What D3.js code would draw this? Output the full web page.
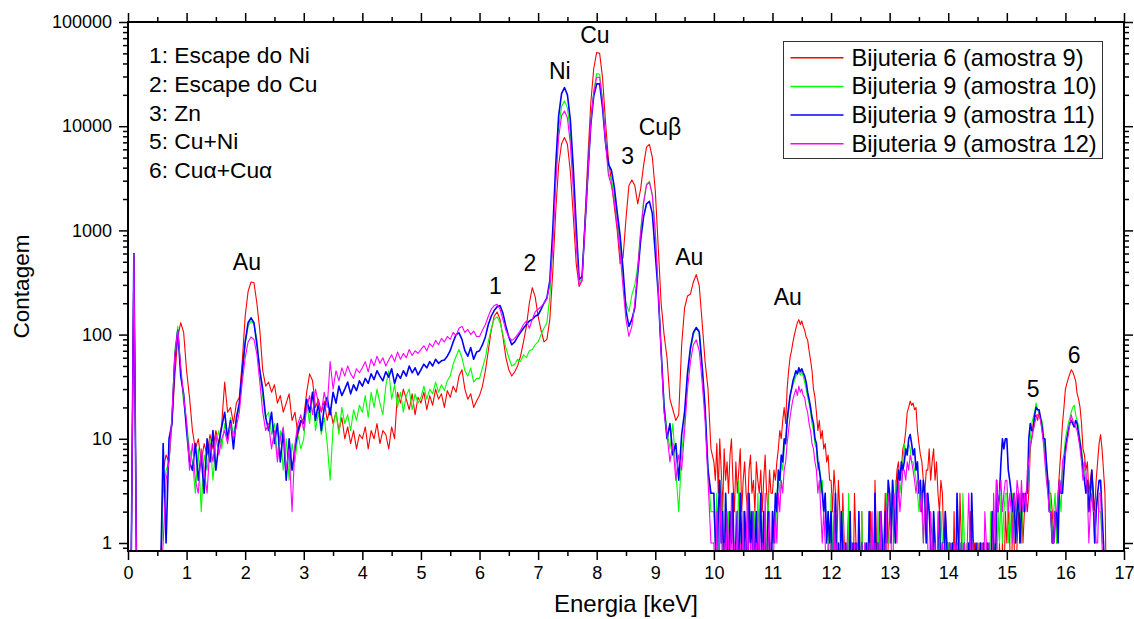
<!DOCTYPE html>
<html>
<head>
<meta charset="utf-8">
<script src="https://cdn.jsdelivr.net/npm/d3@7"></script>
<style>
  html, body { margin: 0; padding: 0; background: #fff; }
  svg { display: block; font-family: "Liberation Sans", Arial, sans-serif; }
</style>
</head>
<body>
<svg id="chart" width="1134" height="619"></svg>
<script>
// ---------------- DATA ----------------
// Low-energy part of the spectrum: 0.00 - 9.95 keV, channel width 0.05 keV
const lowStartKeV = 0.0;
const lowWidthKeV = 0.05;
// High-energy part of the spectrum: 10.000 - 16.700 keV, channel width 0.025 keV
const highStartKeV = 10.0;
const highWidthKeV = 0.025;

const seriesNames = [
  "Bijuteria 6 (amostra 9)",
  "Bijuteria 9 (amostra 10)",
  "Bijuteria 9 (amostra 11)",
  "Bijuteria 9 (amostra 12)"
];

// ---- amostra 9 (red)
const lowAmostra9 = [
  0,0,600,0,0,0,0,0,0,0,0,0,5,7,6,14,40,95,130,105,
  45,25,12,8,10,6,9,7,11,8,12,9,14,35,18,20,14,22,25,55,
  150,260,320,315,200,110,45,32,35,28,33,22,26,18,22,27,15,18,11,14,
  16,28,42,36,20,24,18,23,15,20,14,18,12,16,10,13,9,12,8,11,
  10,13,8,12,10,14,9,12,11,8,13,10,28,22,30,24,19,27,17,25,
  22,28,19,26,21,30,24,27,20,29,25,32,28,40,46,30,24,27,20,23,
  26,32,45,70,110,150,165,140,95,60,46,40,44,50,62,85,120,200,282,230,
  150,110,85,90,140,400,1500,4200,6800,7800,6700,3700,1400,480,290,330,1300,5000,17000,36000,
  51000,50000,29000,11000,4800,3000,1700,1000,480,550,1300,2700,3050,2700,1800,2500,4200,6300,6700,5000,
  2400,700,200,100,60,24,19,15,17,80,180,235,245,320,377,295,130,55,30,8
];
const highAmostra9 = [
  6,4,9,3,10,5,2,8,4,6,3,7,10,4,2,6,3,5,8,2, 4,6,3,2,5,7,3,4,2,6,4,3,5,2,4,7,3,2,5,3,
  3,5,4,6,8,12,10,15,20,14,30,45,60,70,85,100,115,130,139,125, 135,120,110,95,89,70,57,45,30,25,18,12,15,10,12,8,9,6,7,4,
  4,2,5,3,1,4,2,0,3,1,0,1,2,0,1,0,3,1,0,1, 0,2,0,1,0,1,0,2,1,0,4,1,0,2,1,0,1,3,0,1,
  2,1,4,2,3,5,6,4,5,8,9,12,18,20,23,21,22,19,20,12, 9,7,6,4,3,5,5,8,4,6,8,4,6,3,2,4,3,1,2,1,
  1,0,1,0,2,0,1,0,3,1,0,1,0,1,0,2,1,0,1,0, 0,1,0,1,0,0,1,0,1,0,1,0,1,2,0,1,0,1,0,2,
  1,2,1,0,2,1,0,1,2,1,3,1,2,3,2,3,8,10,14,16, 17,15,18,16,14,10,8,5,4,3,3,2,1,2,1,3,5,8,14,20,
  30,34,38,42,46,44,40,36,27,24,20,14,8,7,5,6,3,4,5,3, 2,4,6,9,11,8,5,3,0
];

// ---- amostra 10 (green)
const lowAmostra10 = [
  0,0,600,0,0,0,0,0,0,0,0,0,3,5,6,16,70,120,45,22,
  14,8,6,3,8,2,7,5,10,4,9,12,8,14,10,16,11,15,20,40,
  80,120,135,125,90,45,25,16,18,11,14,7,12,5,10,4,9,6,11,8,
  10,22,14,28,12,18,11,16,9,4,13,18,11,20,14,17,12,19,15,21,
  18,26,16,28,20,30,22,17,32,45,24,33,20,28,18,26,30,19,27,22,
  25,32,24,30,27,35,28,33,29,36,40,52,62,72,60,45,40,48,35,38,
  38,48,60,85,115,140,148,130,100,75,60,50,52,58,55,64,60,70,72,80,
  85,100,115,130,230,750,3200,9500,15500,17500,15000,8500,3000,850,320,350,1150,3700,11500,22000,
  32000,31500,18000,7500,3600,3000,2200,1300,700,330,200,165,240,300,450,1000,1900,2800,2950,2200,
  1000,280,70,22,12,8,14,5,2,7,14,40,70,100,115,110,45,18,5,2
];
const highAmostra10 = [
  2,1,3,0,2,4,1,0,3,1,2,0,1,3,0,2,1,4,1,0, 2,1,0,3,1,2,0,1,2,0,3,1,0,1,2,0,1,3,0,1,
  1,2,1,3,4,3,6,5,8,10,14,18,25,30,33,36,40,42,45,41, 44,40,35,30,25,22,18,14,12,9,8,5,6,3,4,2,3,1,2,0,
  3,1,0,2,1,0,1,0,2,0,1,0,3,0,1,0,1,0,0,1, 0,2,0,1,0,1,0,0,1,0,1,0,2,0,1,0,1,0,3,1,
  1,3,2,1,4,3,5,3,4,6,9,7,8,9,8,6,6,5,4,3, 2,3,2,1,3,1,3,2,1,0,2,1,0,1,0,2,1,0,1,0,
  1,0,0,1,0,1,0,0,1,0,3,1,0,1,0,1,0,1,0,0, 1,0,1,0,0,1,0,1,0,2,1,0,1,0,2,1,3,1,2,3,
  3,1,2,1,3,2,1,3,2,3,1,3,2,3,4,4,10,14,16,18, 22,19,18,15,15,12,7,5,3,4,2,1,2,3,1,2,3,2,5,7,
  10,12,14,16,18,20,21,17,15,13,10,8,6,5,4,3,2,3,4,2, 1,2,3,2,2,1,1,0,0
];

// ---- amostra 11 (blue)
const lowAmostra11 = [
  0,0,600,0,0,0,0,0,0,0,0,0,9,1,10,14,60,110,40,27,
  12,6,5,9,4,7,3,10,6,12,5,9,13,18,10,15,8,16,22,45,
  85,130,145,130,80,45,30,16,12,18,9,14,6,12,4,10,5,8,12,15,
  14,24,18,28,15,22,12,20,25,17,28,22,32,26,30,35,27,33,29,36,
  32,38,34,42,37,45,40,36,44,39,47,34,42,38,45,40,50,43,48,41,
  46,52,48,55,50,58,53,56,57,62,70,85,100,104,90,70,62,75,58,68,
  70,80,95,125,150,170,185,190,160,120,95,80,85,95,105,115,125,135,140,150,
  155,175,200,225,330,1000,4200,12500,20500,23500,20000,11500,4000,1100,340,360,1100,3500,10500,19500,
  25500,25500,15000,7000,4300,3800,2600,1500,880,420,170,120,140,180,380,800,1350,1800,1900,1450,
  600,250,70,20,10,14,7,9,4,11,18,43,75,105,117,105,50,20,5,3
];
const highAmostra11 = [
  3,1,0,2,4,1,2,0,3,1,0,2,1,3,0,1,2,0,3,1, 0,2,1,0,3,1,2,0,1,2,0,1,3,0,2,1,0,2,1,0,
  2,1,3,2,5,4,7,6,10,9,15,20,26,30,36,40,45,42,48,44, 47,43,40,35,28,24,20,16,14,10,9,6,5,4,3,2,3,1,2,1,
  2,0,1,3,0,1,0,2,1,0,1,0,0,2,0,1,0,1,0,2, 0,1,0,0,1,0,2,0,1,0,3,0,1,0,2,1,0,2,1,4,
  3,1,4,2,1,3,5,4,6,5,6,8,7,10,11,9,7,8,5,6, 3,4,2,4,3,1,3,2,1,0,2,1,0,1,2,0,1,0,2,1,
  0,1,0,1,0,0,3,1,0,1,0,1,0,0,1,0,3,1,0,1, 0,0,1,0,1,0,0,1,0,0,2,1,0,4,2,3,6,10,8,10,
  10,5,4,3,2,3,1,2,3,1,2,3,2,3,3,10,14,12,12,17, 20,19,19,16,13,10,10,6,4,2,2,1,1,2,2,1,4,3,3,5,
  8,10,12,14,15,14,13,15,14,11,9,7,5,4,3,4,2,3,5,3, 1,2,3,4,4,2,1,0,0
];

// ---- amostra 12 (magenta)
const lowAmostra12 = [
  0,0,600,0,0,0,0,0,0,0,0,0,1,4,6,17,65,110,50,25,
  15,5,9,4,3,8,5,3,9,6,11,7,10,12,9,14,10,13,18,35,
  60,85,95,90,65,35,18,12,14,8,12,6,10,13,5,8,2,9,14,17,
  12,20,26,17,30,22,18,28,20,55,30,45,36,48,40,50,42,38,47,43,
  48,55,44,58,50,62,53,60,50,57,64,55,68,58,66,60,72,63,70,66,
  72,78,70,82,76,88,80,92,85,96,90,105,98,115,120,105,112,100,108,96,
  96,110,125,150,175,190,195,175,140,110,95,88,92,100,110,125,135,115,140,165,
  175,185,200,220,300,700,2700,7800,12500,14000,12000,6800,2500,750,300,330,1100,3500,11000,21000,
  29500,29500,17000,7000,3400,2700,1900,1100,600,280,140,96,120,200,420,950,1800,2700,2900,2150,
  950,270,65,18,11,6,9,4,7,5,12,30,55,80,89,70,35,15,4,1
];
const highAmostra12 = [
  1,0,2,0,1,3,0,1,0,2,1,0,3,0,1,0,2,0,1,0, 2,0,1,3,0,1,0,2,0,1,0,2,0,1,0,3,0,1,2,0,
  0,1,2,1,3,2,4,3,5,6,9,12,16,20,24,27,30,26,32,28, 30,26,25,20,18,14,12,9,8,6,5,3,4,2,1,2,1,0,1,0,
  1,0,2,0,1,0,0,1,0,1,0,1,0,0,1,0,1,0,1,0, 0,1,0,1,0,0,1,0,2,0,1,0,1,0,2,0,1,0,2,3,
  2,1,0,3,2,1,4,2,3,5,5,4,6,5,7,6,5,4,3,4, 4,2,3,1,2,3,1,0,2,1,0,1,0,2,1,0,1,0,1,0,
  0,1,0,0,1,0,1,0,0,1,0,1,0,1,3,1,0,1,0,0, 1,0,0,1,0,2,1,0,1,0,0,3,1,4,2,3,4,2,3,4,
  4,2,3,2,1,3,2,4,3,2,4,2,3,2,5,6,9,10,12,14, 16,17,17,15,12,9,6,4,3,2,2,1,1,2,2,3,4,3,6,7,
  7,9,11,14,17,15,14,13,12,10,8,6,4,6,5,3,1,2,3,2, 2,1,1,3,3,1,0,0,0
];

const seriesColors = ["#ff0000", "#00ff00", "#0000ff", "#ff00ff"];
const seriesWidths = [1.1, 1.1, 1.6, 1.1];

const xTickValues = [0,1,2,3,4,5,6,7,8,9,10,11,12,13,14,15,16,17];
const yTickValues = [1, 10, 100, 1000, 10000, 100000];

const notes = ["1: Escape do Ni", "2: Escape do Cu", "3: Zn", "5: Cu+Ni", "6: Cu\u03b1+Cu\u03b1"];

// peak labels anchored at (keV, counts)
const peakLabels = [
  {t: "Au", e: 2.03, c: 417},
  {t: "1",  e: 6.27, c: 245},
  {t: "2",  e: 6.86, c: 408},
  {t: "Ni", e: 7.37, c: 28400},
  {t: "Cu", e: 7.97, c: 62800},
  {t: "3",  e: 8.53, c: 4340},
  {t: "Cu\u03b2", e: 9.08, c: 8230},
  {t: "Au", e: 9.58, c: 466},
  {t: "Au", e: 11.26, c: 192},
  {t: "5",  e: 15.45, c: 25.2},
  {t: "6",  e: 16.15, c: 53.3}
];

// ---------------- LAYOUT ----------------
const pL = 128, pR = 1124, pT = 22, pB = 551;
const yMin = Math.pow(10, -0.0768);

const svg = d3.select("#chart");
const x = d3.scaleLinear().domain([0, 17]).range([pL, pR]);
const y = d3.scaleLog().domain([yMin, 100000]).range([pB, pT]);

svg.append("defs").append("clipPath").attr("id", "plotclip")
  .append("rect").attr("x", pL).attr("y", pT).attr("width", pR - pL).attr("height", pB - pT);

function spectrum(low, high) {
  const pts = low.map((c, i) => ({e: lowStartKeV + i * lowWidthKeV, c}));
  high.forEach((c, i) => pts.push({e: highStartKeV + i * highWidthKeV, c}));
  return pts;
}
const allSeries = [
  spectrum(lowAmostra9, highAmostra9),
  spectrum(lowAmostra10, highAmostra10),
  spectrum(lowAmostra11, highAmostra11),
  spectrum(lowAmostra12, highAmostra12)
];

const line = d3.line()
  .x(d => x(d.e))
  .y(d => y(d.c > 0 ? d.c : 0.3));

const plot = svg.append("g").attr("clip-path", "url(#plotclip)");
allSeries.forEach((s, k) => {
  plot.append("path")
    .datum(s)
    .attr("d", line)
    .attr("fill", "none")
    .attr("stroke", seriesColors[k])
    .attr("stroke-width", seriesWidths[k])
    .attr("stroke-linejoin", "round");
});

// ---------------- AXES ----------------
const fontTick = 18;
const majorLen = 9, minorLen = 5;

const xMinor = d3.range(0.5, 17, 1);
const yMinor = [];
[-1,0,1,2,3,4].forEach(p => {
  for (let m = 2; m <= 9; m++) {
    const v = m * Math.pow(10, p);
    if (v >= yMin && v <= 100000) yMinor.push(v);
  }
});

function styleAxis(g) {
  g.select(".domain").remove();
  g.selectAll(".tick line").attr("stroke", "#000").attr("stroke-width", 1.5);
  g.selectAll(".tick text").attr("fill", "#000")
    .style("font-size", fontTick + "px")
    .style("font-family", '"Liberation Sans", Arial, sans-serif');
}

// bottom
svg.append("g").attr("transform", `translate(0,${pB})`)
  .call(d3.axisBottom(x).tickValues(xTickValues).tickSize(majorLen).tickPadding(6).tickFormat(d3.format("d")))
  .call(styleAxis);
svg.append("g").attr("transform", `translate(0,${pB})`)
  .call(d3.axisBottom(x).tickValues(xMinor).tickSize(minorLen).tickFormat(""))
  .call(styleAxis);
// top
svg.append("g").attr("transform", `translate(0,${pT})`)
  .call(d3.axisTop(x).tickValues(xTickValues).tickSize(majorLen).tickFormat(""))
  .call(styleAxis);
svg.append("g").attr("transform", `translate(0,${pT})`)
  .call(d3.axisTop(x).tickValues(xMinor).tickSize(minorLen).tickFormat(""))
  .call(styleAxis);
// left
svg.append("g").attr("transform", `translate(${pL},0)`)
  .call(d3.axisLeft(y).tickValues(yTickValues).tickSize(majorLen).tickPadding(7).tickFormat(d3.format("d")))
  .call(styleAxis);
svg.append("g").attr("transform", `translate(${pL},0)`)
  .call(d3.axisLeft(y).tickValues(yMinor).tickSize(minorLen).tickFormat(""))
  .call(styleAxis);
// right
svg.append("g").attr("transform", `translate(${pR},0)`)
  .call(d3.axisRight(y).tickValues(yTickValues).tickSize(majorLen).tickFormat(""))
  .call(styleAxis);
svg.append("g").attr("transform", `translate(${pR},0)`)
  .call(d3.axisRight(y).tickValues(yMinor).tickSize(minorLen).tickFormat(""))
  .call(styleAxis);

// frame
svg.append("rect")
  .attr("x", pL).attr("y", pT).attr("width", pR - pL).attr("height", pB - pT)
  .attr("fill", "none").attr("stroke", "#000").attr("stroke-width", 2);

// axis titles
svg.append("text")
  .attr("x", 626).attr("y", 612)
  .attr("text-anchor", "middle")
  .style("font-size", "24px")
  .text("Energia [keV]");
svg.append("text")
  .attr("transform", `translate(29,${(pT + pB) / 2}) rotate(-90)`)
  .attr("text-anchor", "middle")
  .style("font-size", "22.5px")
  .text("Contagem");

// notes
const noteFont = 22.8;
notes.forEach((t, i) => {
  svg.append("text")
    .attr("x", 149).attr("y", 63 + i * 28.8)
    .style("font-size", noteFont + "px")
    .text(t);
});

// peak labels
peakLabels.forEach(p => {
  svg.append("text")
    .attr("x", x(p.e)).attr("y", y(p.c))
    .attr("text-anchor", "middle")
    .style("font-size", "23px")
    .text(p.t);
});

// legend
const lg = svg.append("g");
lg.append("rect")
  .attr("x", 783.5).attr("y", 41.5).attr("width", 319).attr("height", 117)
  .attr("fill", "#fff").attr("stroke", "#333").attr("stroke-width", 1);
seriesNames.forEach((name, i) => {
  const by = 65.7 + i * 28.7;
  lg.append("line")
    .attr("x1", 790.5).attr("x2", 843.5)
    .attr("y1", by - 8).attr("y2", by - 8)
    .attr("stroke", seriesColors[i]).attr("stroke-width", 1.5);
  lg.append("text")
    .attr("x", 851.5).attr("y", by)
    .style("font-size", "23.6px")
    .text(name);
});
</script>
</body>
</html>
